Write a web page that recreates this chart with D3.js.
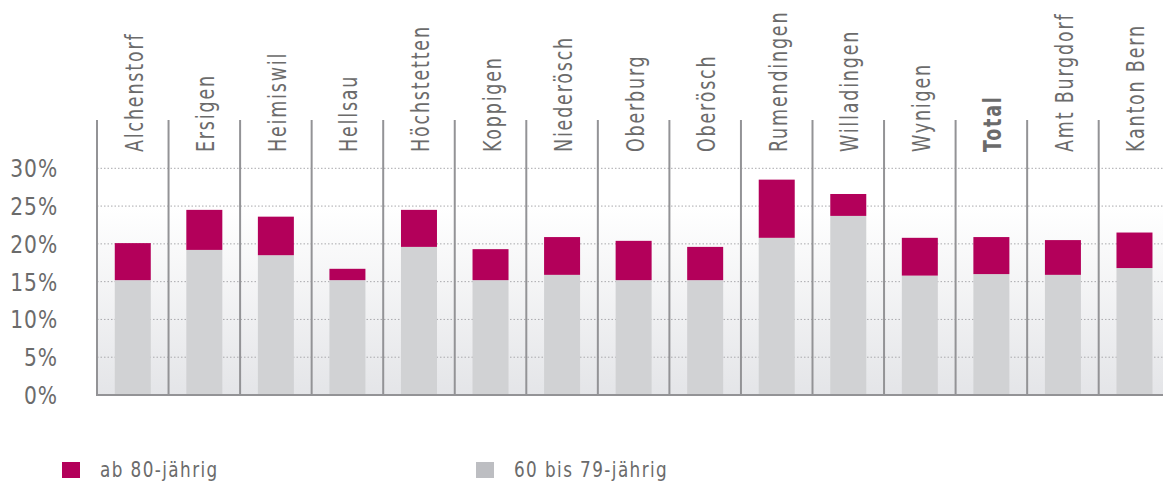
<!DOCTYPE html>
<html>
<head>
<meta charset="utf-8">
<script src="https://cdn.jsdelivr.net/npm/d3@7"></script>
<style>
  body { margin: 0; background: #fff; overflow: hidden; }
  text { font-family: "DejaVu Sans Condensed", "DejaVu Sans", sans-serif; fill: #6b6b6b; }
</style>
</head>
<body>
<div id="chart"></div>
<script>
// data (percent of population)
var categories = ["Alchenstorf", "Ersigen", "Heimiswil", "Hellsau", "Höchstetten", "Koppigen",
  "Niederösch", "Oberburg", "Oberösch", "Rumendingen", "Willadingen", "Wynigen",
  "Total", "Amt Burgdorf", "Kanton Bern"];
var age60to79 = [15.2, 19.2, 18.5, 15.2, 19.6, 15.2, 15.9, 15.2, 15.2, 20.8, 23.7, 15.8, 16.0, 15.9, 16.8];
var age80plus = [4.9, 5.3, 5.1, 1.5, 4.9, 4.1, 5.0, 5.2, 4.4, 7.7, 2.9, 5.0, 4.9, 4.6, 4.7];
var yTicks = [0, 5, 10, 15, 20, 25, 30];
var seriesNames = ["ab 80-jährig", "60 bis 79-jährig"];

var W = 1163, H = 483;
var margin = { top: 120, left: 97, bottom: 88 };
var step = 71.55;
var plotRight = margin.left + categories.length * step;
var plotBottom = H - margin.bottom; // 395

var svg = d3.select("#chart").append("svg")
  .attr("width", W)
  .attr("height", H);

// background gradient
var defs = svg.append("defs");
var grad = defs.append("linearGradient")
  .attr("id", "bg")
  .attr("x1", 0).attr("y1", 0).attr("x2", 0).attr("y2", 1);
grad.append("stop").attr("offset", "0%").attr("stop-color", "#ffffff");
grad.append("stop").attr("offset", "20%").attr("stop-color", "#ffffff");
grad.append("stop").attr("offset", "100%").attr("stop-color", "#e4e5e8");

var x = d3.scaleBand().domain(categories).range([margin.left, plotRight]).padding(0);
var y = d3.scaleLinear().domain([0, 30]).range([plotBottom, 168.3]);

svg.append("rect")
  .attr("x", margin.left)
  .attr("y", y(31))
  .attr("width", plotRight - margin.left)
  .attr("height", plotBottom - y(31))
  .attr("fill", "url(#bg)");

// dotted grid lines
svg.append("g")
  .selectAll("line")
  .data(yTicks.filter(function (d) { return d > 0; }))
  .enter()
  .append("line")
  .attr("x1", margin.left)
  .attr("x2", plotRight)
  .attr("y1", function (d) { return y(d); })
  .attr("y2", function (d) { return y(d); })
  .attr("stroke", "#a9a9ad")
  .attr("stroke-width", 1)
  .attr("stroke-dasharray", "1.5,2");

// stacked bars
var barW = 36;
var bars = svg.append("g")
  .selectAll("g")
  .data(categories)
  .enter()
  .append("g")
  .attr("transform", function (d) {
    return "translate(" + (x(d) + (x.bandwidth() - barW) / 2) + ",0)";
  });

bars.append("rect")
  .attr("width", barW)
  .attr("y", function (d, i) { return y(age60to79[i]); })
  .attr("height", function (d, i) { return plotBottom - y(age60to79[i]); })
  .attr("fill", "#d1d2d4");

bars.append("rect")
  .attr("width", barW)
  .attr("y", function (d, i) { return y(age60to79[i] + age80plus[i]); })
  .attr("height", function (d, i) { return y(age60to79[i]) - y(age60to79[i] + age80plus[i]); })
  .attr("fill", "#b3005a");

// vertical separators
svg.append("g")
  .selectAll("line")
  .data(categories)
  .enter()
  .append("line")
  .attr("x1", function (d) { return x(d); })
  .attr("x2", function (d) { return x(d); })
  .attr("y1", margin.top)
  .attr("y2", plotBottom)
  .attr("stroke", "#939396")
  .attr("stroke-width", 2);

// bottom axis line
svg.append("line")
  .attr("x1", margin.left - 1)
  .attr("x2", W)
  .attr("y1", plotBottom)
  .attr("y2", plotBottom)
  .attr("stroke", "#939396")
  .attr("stroke-width", 2);

// y tick labels (condensed by scaling)
svg.append("g")
  .selectAll("text")
  .data(yTicks)
  .enter()
  .append("text")
  .attr("transform", function (d) { return "translate(58," + (y(d) + 9) + ") scale(0.9,1)"; })
  .attr("text-anchor", "end")
  .style("font-size", "25px")
  .style("letter-spacing", "1px")
  .text(function (d) { return d + "%"; });

// category labels, rotated
svg.append("g")
  .selectAll("text")
  .data(categories)
  .enter()
  .append("text")
  .attr("transform", function (d) {
    return "translate(" + (x(d) + x.bandwidth() / 2 + 10) + ",152) rotate(-90) scale(0.78,1)";
  })
  .style("font-size", "25px")
  .style("letter-spacing", "2.3px")
  .style("font-weight", function (d) { return d === "Total" ? "bold" : "normal"; })
  .text(function (d) { return d; });

// legend
var legendColors = ["#b3005a", "#bdbec2"];
var legendX = [62, 476];
var legend = svg.append("g")
  .selectAll("g")
  .data(seriesNames)
  .enter()
  .append("g")
  .attr("transform", function (d, i) { return "translate(" + legendX[i] + ",0)"; });

legend.append("rect")
  .attr("y", 462)
  .attr("width", 18)
  .attr("height", 16)
  .attr("fill", function (d, i) { return legendColors[i]; });

legend.append("text")
  .attr("transform", "translate(38,477) scale(0.89,1)")
  .style("font-size", "21px")
  .style("letter-spacing", "1.6px")
  .text(function (d) { return d; });
</script>
</body>
</html>
